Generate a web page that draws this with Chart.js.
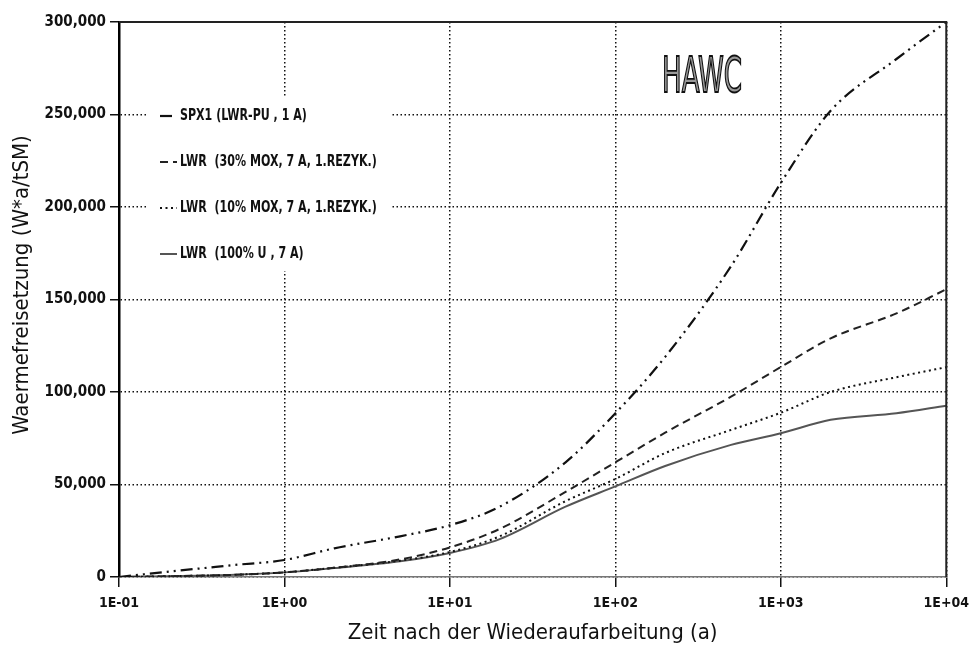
<!DOCTYPE html>
<html>
<head>
<meta charset="utf-8">
<script src="https://cdn.jsdelivr.net/npm/chart.js@4.4.0/dist/chart.umd.min.js"></script>
<style>
  html, body { margin: 0; padding: 0; background: #fff; }
  #wrap { width: 977px; height: 660px; }
</style>
</head>
<body>
<div id="wrap"><canvas id="c" width="977" height="660"></canvas></div>
<script>
// data
var years = [0.1, 0.2, 0.5, 1, 2, 5, 10, 20, 50, 100, 200, 500, 1000, 2000, 5000, 10000];
var spx1  = [0, 2900, 6500, 9200, 15500, 22000, 28000, 38000, 62000, 88500, 119000, 168000, 213000, 252000, 280000, 300000];
var mox30 = [0, 400, 1200, 2500, 5000, 9500, 16000, 26000, 46000, 62000, 78000, 97500, 113500, 129000, 142500, 155500];
var mox10 = [0, 400, 1200, 2500, 5000, 8800, 13500, 22000, 41000, 53000, 67000, 79500, 88800, 100000, 108000, 113400];
var u100  = [0, 400, 1200, 2500, 4800, 8500, 13000, 20500, 38000, 49000, 60000, 71400, 77700, 85000, 88500, 92600];

var seriesNames = ['SPX1 (LWR-PU , 1 A)', 'LWR  (30% MOX, 7 A, 1.REZYK.)', 'LWR  (10% MOX, 7 A, 1.REZYK.)', 'LWR  (100% U , 7 A)'];
var xTickValues = [0.1, 1, 10, 100, 1000, 10000];
var xTickLabels = ['1E-01', '1E+00', '1E+01', '1E+02', '1E+03', '1E+04'];
var yTickLabels = ['0', '50,000', '100,000', '150,000', '200,000', '250,000', '300,000'];

var FONT = '"DejaVu Sans Condensed", "DejaVu Sans", sans-serif';

function pts(vals) {
  return years.map(function (x, i) { return { x: x, y: vals[i] }; });
}

function line(label, vals, color, width, dash) {
  return {
    label: label,
    data: pts(vals),
    borderColor: color,
    borderWidth: width,
    borderDash: dash,
    pointRadius: 0,
    fill: false,
    cubicInterpolationMode: 'monotone'
  };
}

// legend inside the plot + the HAWC caption + y title
var extras = {
  id: 'extras',
  afterDatasetsDraw: function (chart) {
    var ctx = chart.ctx;
    ctx.save();
    ctx.fillStyle = '#fff';
    ctx.fillRect(146, 97, 244, 174);

    ctx.font = 'bold 15px ' + FONT;
    ctx.textBaseline = 'middle';
    chart.data.datasets.forEach(function (ds, i) {
      var y = 116 + i * 46;
      ctx.beginPath();
      ctx.setLineDash(ds.borderDash || []);
      ctx.strokeStyle = ds.borderColor;
      ctx.lineWidth = ds.borderWidth;
      ctx.moveTo(160, y);
      ctx.lineTo(177, y);
      ctx.stroke();
      ctx.setLineDash([]);
      ctx.fillStyle = '#111';
      ctx.save();
      ctx.translate(180, y);
      ctx.scale(0.82, 1);
      ctx.fillText(ds.label, 0, 0);
      ctx.restore();
    });

    // HAWC
    ctx.font = '50px ' + FONT;
    var w = ctx.measureText('HAWC').width;
    ctx.translate(662, 92);
    ctx.scale(80 / w, 1);
    ctx.textBaseline = 'alphabetic';
    ctx.fillStyle = '#999';
    ctx.strokeStyle = '#111';
    ctx.lineWidth = 1.8;
    ctx.fillText('HAWC', 0, 0);
    ctx.strokeText('HAWC', 0, 0);
    ctx.restore();

    // frame top / right
    var a = chart.chartArea;
    ctx.save();
    ctx.strokeStyle = '#222';
    ctx.lineWidth = 2;
    ctx.beginPath();
    ctx.moveTo(a.left, a.top);
    ctx.lineTo(a.right, a.top);
    ctx.lineTo(a.right, a.bottom);
    ctx.stroke();

    // y axis title
    ctx.translate(22, 285);
    ctx.rotate(-Math.PI / 2);
    ctx.font = '22px ' + FONT;
    ctx.textAlign = 'center';
    ctx.textBaseline = 'middle';
    ctx.fillStyle = '#111';
    ctx.fillText('Waermefreisetzung (W*a/tSM)', 0, 0);
    ctx.restore();
  }
};

var ctx = document.getElementById('c').getContext('2d');
var chart = new Chart(ctx, {
  type: 'line',
  data: {
    datasets: [
      line(seriesNames[0], spx1, '#111', 2.2, [12, 5, 2, 5, 2, 5]),
      line(seriesNames[1], mox30, '#222', 2, [8, 5]),
      line(seriesNames[2], mox10, '#111', 2, [2, 3.5]),
      line(seriesNames[3], u100, '#555', 2, [])
    ]
  },
  options: {
    responsive: false,
    animation: false,
    devicePixelRatio: 1,
    layout: { padding: { top: 22, right: 23, left: 0, bottom: 0 } },
    plugins: {
      legend: { display: false },
      tooltip: { enabled: false }
    },
    scales: {
      x: {
        type: 'logarithmic',
        min: 0.1,
        max: 10000,
        afterBuildTicks: function (scale) {
          scale.ticks = xTickValues.map(function (v) { return { value: v }; });
        },
        afterFit: function (scale) { scale.height = 83; },
        ticks: {
          autoSkip: false,
          maxRotation: 0,
          padding: 8,
          color: '#111',
          font: { family: FONT, size: 14, weight: 'bold' },
          callback: function (v, i) { return xTickLabels[i]; }
        },
        grid: {
          color: '#111',
          lineWidth: 1.5,
          tickLength: 10,
          tickColor: '#111',
          tickWidth: 1.5,
          tickBorderDash: []
        },
        border: { color: '#777', width: 1.5, dash: [1.5, 2.5] },
        title: {
          display: true,
          text: 'Zeit nach der Wiederaufarbeitung (a)',
          color: '#111',
          font: { family: FONT, size: 22 },
          padding: { top: 0, bottom: 14 }
        }
      },
      y: {
        min: 0,
        max: 300000,
        afterFit: function (scale) { scale.width = 119; },
        ticks: {
          stepSize: 50000,
          padding: 4,
          color: '#111',
          font: { family: FONT, size: 15, weight: 'bold' },
          callback: function (v) { return yTickLabels[Math.round(v / 50000)]; }
        },
        grid: {
          color: '#111',
          lineWidth: 1.5,
          tickLength: 9,
          tickColor: '#111',
          tickWidth: 1.5,
          tickBorderDash: []
        },
        border: { color: '#000', width: 2.5, dash: [1.5, 2.5] }
      }
    }
  },
  plugins: [extras]
});
</script>
</body>
</html>
